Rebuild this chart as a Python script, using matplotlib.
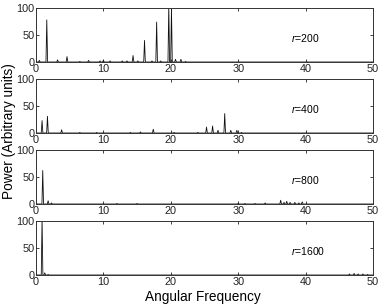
import numpy as np
import matplotlib
matplotlib.use("Agg")
import matplotlib.pyplot as plt

plt.rcParams["font.family"] = ["Liberation Sans", "DejaVu Sans"]
plt.rcParams["mathtext.fontset"] = "custom"
plt.rcParams["mathtext.it"] = "Liberation Sans:italic"
plt.rcParams["mathtext.rm"] = "Liberation Sans"

# peak lists per run: (angular frequency, power)
R_VALUES = [200, 400, 800, 1600]
PEAK_FREQ = [
    [0.5, 1.6, 3.2, 4.6, 6.5, 7.8, 9.5, 10.0, 11.0, 12.8, 13.5, 14.4, 15.1,
     16.1, 17.2, 17.9, 18.5, 19.7, 20.1, 20.7, 21.5, 22.2],
    [0.9, 1.7, 3.8, 6.5, 9.0, 14.0, 15.5, 17.4, 20.5, 24.0, 25.3, 26.2,
     27.0, 28.0, 28.9, 29.8, 30.5],
    [1.0, 1.8, 2.3, 12.0, 15.0, 30.0, 31.0, 32.5, 34.0, 36.3, 36.8, 37.2,
     37.7, 38.4, 39.0, 39.5],
    [0.9, 1.3, 1.8, 46.5, 47.2, 47.8, 48.5, 49.2],
]
PEAK_POW = [
    [3, 78, 4, 10, 1, 3, 2, 3, 2, 2, 2, 12, 2,
     40, 2, 74, 2, 105, 100, 5, 5, 1],
    [23, 31, 6, 1, 1, 1, 2, 7, 1, 1, 11, 13,
     5, 36, 5, 5, 1],
    [62, 6, 2, 1, 1, 1, 1, 1, 2, 7, 3, 5,
     3, 3, 2, 4],
    [105, 4, 1, 2, 3, 2, 2, 1],
]
XTICKS = [0, 10, 20, 30, 40, 50]
YTICKS = [0, 50, 100]


def spikes(freq, power, w=0.12):
    xs, ys = [0.0], [0.0]
    for f, p in sorted(zip(freq, power)):
        xs += [f - w, f, f + w]
        ys += [0.0, p, 0.0]
    xs.append(50.0); ys.append(0.0)
    return np.array(xs), np.array(ys)


fig = plt.figure(figsize=(3.82, 3.08), dpi=100)
W, H = 382.0, 308.0
tops = [8, 79, 150, 221]
ph = 54
for i, r in enumerate(R_VALUES):
    ax = fig.add_axes([36 / W, 1 - (tops[i] + ph) / H, 337 / W, ph / H])
    x, y = spikes(PEAK_FREQ[i], PEAK_POW[i])
    ax.plot(x, y, color="#111111", lw=0.6)
    ax.set_xlim(0, 50); ax.set_ylim(0, 100)
    ax.set_xticks(XTICKS); ax.set_yticks(YTICKS)
    ax.tick_params(direction="in", top=True, right=True, length=2.5, width=0.6,
                   labelsize=7.8, pad=1.2, colors="#222222")
    for s in ax.spines.values():
        s.set_linewidth(0.7); s.set_color("#333333")
    ax.text(37.8, 45, f"$r$={r}", fontsize=7.5, va="center", ha="left")

fig.text(0.53, 0.012, "Angular Frequency", ha="center", va="bottom", fontsize=9.8)
fig.text(0.004, 0.575, "Power (Arbitrary units)", rotation=90, ha="left",
         va="center", fontsize=9.8)
fig.savefig("out.png", dpi=100)
